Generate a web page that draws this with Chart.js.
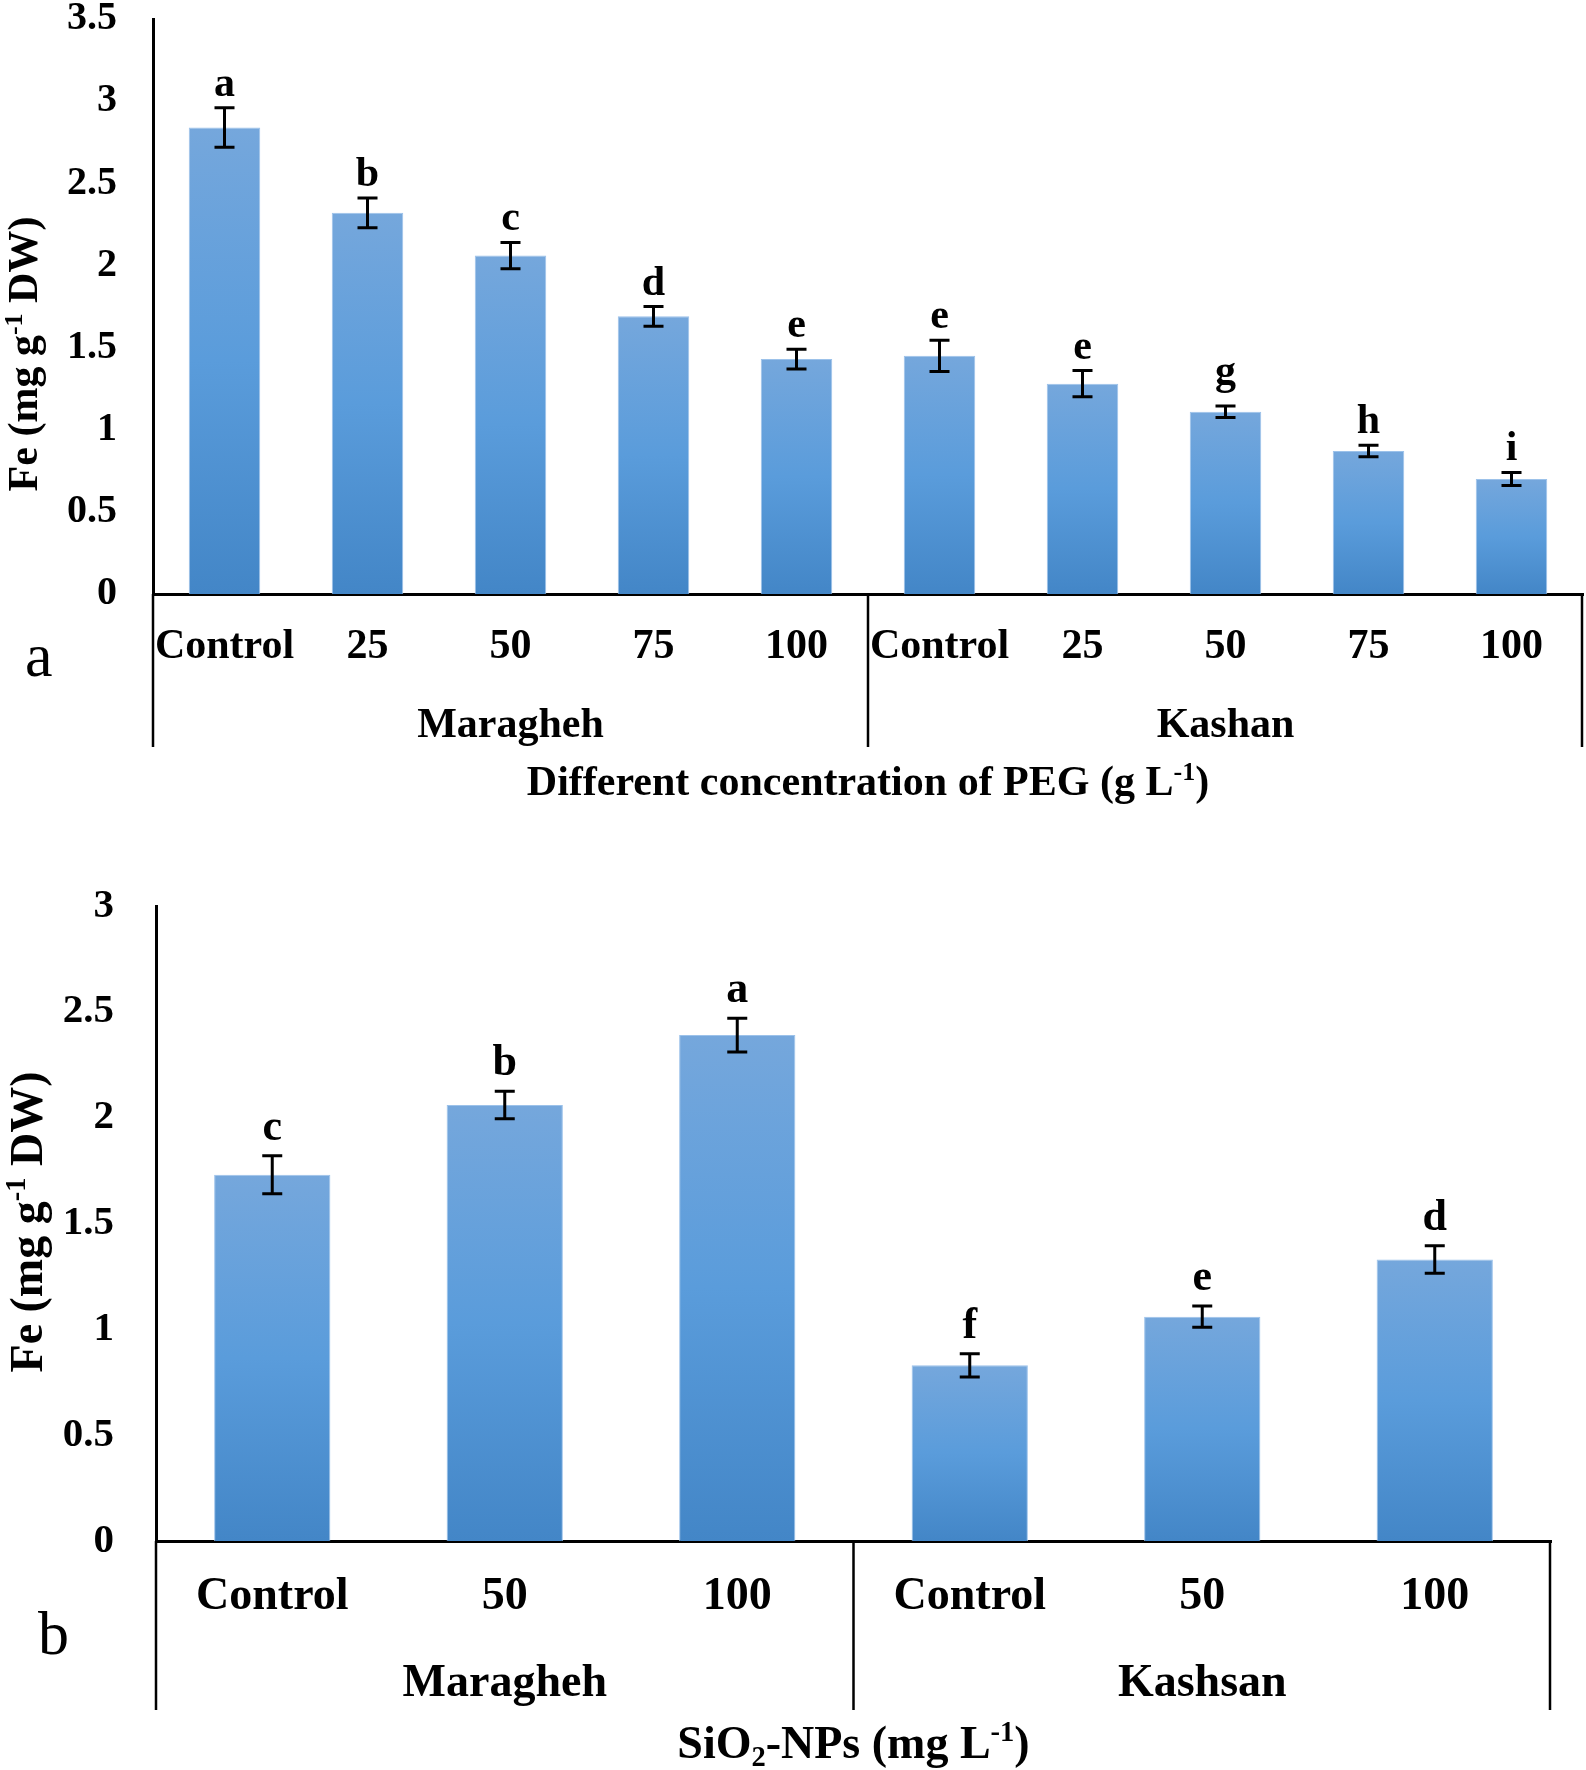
<!DOCTYPE html>
<html>
<head>
<meta charset="utf-8">
<script src="https://cdn.jsdelivr.net/npm/chart.js@4.4.1/dist/chart.umd.min.js"></script>
<style>
  html, body { margin: 0; padding: 0; background: #fff; }
  #wrap { position: relative; width: 1586px; height: 1770px; }
  canvas { position: absolute; left: 0; }
  #chartA { top: 0; }
  #chartB { top: 800px; }
</style>
</head>
<body>
<div id="wrap">
  <canvas id="chartA" width="1586" height="820"></canvas>
  <canvas id="chartB" width="1586" height="970"></canvas>
</div>
<script>
// ---- data: panel a (PEG)
const catsA = ['Control', '25', '50', '75', '100', 'Control', '25', '50', '75', '100'];
const groupsA = ['Maragheh', 'Kashan'];
const feA = [2.84, 2.32, 2.06, 1.69, 1.43, 1.45, 1.28, 1.11, 0.87, 0.70];
const errA = [0.12, 0.09, 0.08, 0.06, 0.06, 0.095, 0.08, 0.035, 0.035, 0.04];
const lettersA = ['a', 'b', 'c', 'd', 'e', 'e', 'e', 'g', 'h', 'i'];

// ---- data: panel b (SiO2-NPs)
const catsB = ['Control', '50', '100', 'Control', '50', '100'];
const groupsB = ['Maragheh', 'Kashsan'];
const feB = [1.73, 2.06, 2.39, 0.83, 1.06, 1.33];
const errB = [0.09, 0.065, 0.08, 0.055, 0.05, 0.065];
const lettersB = ['c', 'b', 'a', 'f', 'e', 'd'];

const SERIF = '"Liberation Serif", "Times New Roman", serif';

// draw text with ^superscript / _subscript parts
function drawRich(ctx, parts, x, y, size, align) {
    let w = 0;
    const items = parts.map(p => {
        let txt = p, s = size, shift = 0;
        if (p[0] === '^') { txt = p.slice(1); s = size * 0.62; shift = -size * 0.36; }
        else if (p[0] === '_') { txt = p.slice(1); s = size * 0.62; shift = size * 0.18; }
        ctx.font = 'bold ' + s + 'px ' + SERIF;
        const m = ctx.measureText(txt).width;
        w += m;
        return { txt, s, shift, m };
    });
    let cx = align === 'center' ? x - w / 2 : x;
    ctx.textAlign = 'left';
    ctx.textBaseline = 'alphabetic';
    items.forEach(it => {
        ctx.font = 'bold ' + it.s + 'px ' + SERIF;
        ctx.fillText(it.txt, cx, y + it.shift);
        cx += it.m;
    });
}

// vertical gradient per bar, lighter at the top
function barFill(c) {
    const chart = c.chart;
    const y = chart.scales.y;
    if (!chart.chartArea || !y || c.type !== 'data') return '#5b9bd5';
    const top = y.getPixelForValue(c.dataset.data[c.dataIndex]);
    const bottom = y.getPixelForValue(0);
    const g = chart.ctx.createLinearGradient(0, top, 0, bottom);
    g.addColorStop(0, '#75a7dc');
    g.addColorStop(0.5, '#5a9cdb');
    g.addColorStop(1, '#4386c7');
    return g;
}

// error bars, letters, group labels, titles
function annotations(o) {
    return {
        id: 'annot',
        afterDraw(chart) {
            const { ctx, chartArea: ca, scales: { x, y } } = chart;
            ctx.save();
            ctx.strokeStyle = '#000';
            ctx.fillStyle = '#000';

            // error bars + significance letters
            o.values.forEach((v, i) => {
                const px = x.getPixelForValue(i);
                const hi = y.getPixelForValue(v + o.errs[i]);
                const lo = y.getPixelForValue(v - o.errs[i]);
                ctx.lineWidth = 3;
                ctx.beginPath();
                ctx.moveTo(px, hi); ctx.lineTo(px, lo);
                ctx.moveTo(px - 10, hi); ctx.lineTo(px + 10, hi);
                ctx.moveTo(px - 10, lo); ctx.lineTo(px + 10, lo);
                ctx.stroke();
                const desc = 'gpqy'.includes(o.letters[i]) ? 10 : 0;
                ctx.font = 'bold ' + o.letterSize + 'px ' + SERIF;
                ctx.textAlign = 'center';
                ctx.textBaseline = 'alphabetic';
                ctx.fillText(o.letters[i], px, hi - o.letterGap - desc);
            });

            // group dividers below the axis
            const n = o.values.length / 2;
            const mid = (x.getPixelForValue(n - 1) + x.getPixelForValue(n)) / 2;
            ctx.lineWidth = 2.5;
            ctx.beginPath();
            [ca.left, mid, ca.right - 1].forEach(gx => {
                ctx.moveTo(gx, ca.bottom);
                ctx.lineTo(gx, o.dividerBottom);
            });
            ctx.stroke();

            // group labels
            ctx.font = 'bold ' + o.textSize + 'px ' + SERIF;
            ctx.textAlign = 'center';
            ctx.fillText(o.groups[0], (ca.left + mid) / 2, o.groupBaseline);
            ctx.fillText(o.groups[1], (mid + ca.right) / 2, o.groupBaseline);

            // x axis title
            drawRich(ctx, o.xTitle, (ca.left + ca.right) / 2, o.titleBaseline, o.textSize, 'center');

            // y axis title
            ctx.save();
            ctx.translate(o.yTitleX, o.yTitleCenter);
            ctx.rotate(-Math.PI / 2);
            drawRich(ctx, ['Fe (mg g', '^-1', ' DW)'], 0, 0, o.textSize, 'center');
            ctx.restore();

            // panel letter
            ctx.font = o.panelSize + 'px ' + SERIF;
            ctx.textAlign = 'left';
            ctx.fillText(o.panel, o.panelX, o.panelY);
            ctx.restore();
        }
    };
}

function makeChart(id, cats, values, o) {
    const canvas = document.getElementById(id);
    return new Chart(canvas.getContext('2d'), {
        type: 'bar',
        data: {
            labels: cats,
            datasets: [{
                data: values,
                backgroundColor: barFill,
                borderColor: '#9cc2ea',
                borderWidth: 1,
                categoryPercentage: 0.5,
                barPercentage: 1.0
            }]
        },
        options: {
            responsive: false,
            devicePixelRatio: 1,
            animation: false,
            layout: { padding: o.padding },
            plugins: { legend: { display: false }, tooltip: { enabled: false } },
            scales: {
                x: {
                    grid: { display: false, drawTicks: false },
                    border: { display: true, color: '#000', width: 3 },
                    ticks: {
                        autoSkip: false, maxRotation: 0, minRotation: 0,
                        padding: o.catPadding, color: '#000',
                        font: { family: SERIF, size: o.textSize, weight: 'bold' }
                    },
                    afterFit: s => { s.height = o.xHeight; s.paddingLeft = 0; s.paddingRight = 0; }
                },
                y: {
                    min: 0, max: o.yMax,
                    grid: { display: false, drawTicks: false },
                    border: { display: true, color: '#000', width: 3 },
                    ticks: {
                        stepSize: 0.5, padding: o.tickPadding, color: '#000',
                        font: { family: SERIF, size: o.tickSize, weight: 'bold' },
                        callback: v => String(+v.toFixed(1))
                    },
                    afterFit: s => { s.width = o.yWidth; s.paddingTop = 0; s.paddingBottom = 0; }
                }
            }
        },
        plugins: [annotations(Object.assign({ values }, o))]
    });
}

makeChart('chartA', catsA, feA, {
    errs: errA, letters: lettersA, groups: groupsA,
    padding: { left: 0, right: 3, top: 19, bottom: 0 },
    yMax: 3.5, yWidth: 153, xHeight: 226,
    tickSize: 40, tickPadding: 36, textSize: 42, catPadding: 28,
    letterSize: 42, letterGap: 12,
    dividerBottom: 747, groupBaseline: 737, titleBaseline: 795,
    xTitle: ['Different concentration of PEG (g L', '^-1', ')'],
    yTitleX: 37, yTitleCenter: 354,
    panel: 'a', panelSize: 62, panelX: 25, panelY: 676
});

makeChart('chartB', catsB, feB, {
    errs: errB, letters: lettersB, groups: groupsB,
    padding: { left: 0, right: 35, top: 106, bottom: 0 },
    yMax: 3, yWidth: 156, xHeight: 229,
    tickSize: 41, tickPadding: 42, textSize: 46, catPadding: 29,
    letterSize: 44, letterGap: 16,
    dividerBottom: 910, groupBaseline: 896, titleBaseline: 958,
    xTitle: ['SiO', '_2', '-NPs (mg L', '^-1', ')'],
    yTitleX: 42, yTitleCenter: 422,
    panel: 'b', panelSize: 62, panelX: 38, panelY: 854
});
</script>
</body>
</html>
